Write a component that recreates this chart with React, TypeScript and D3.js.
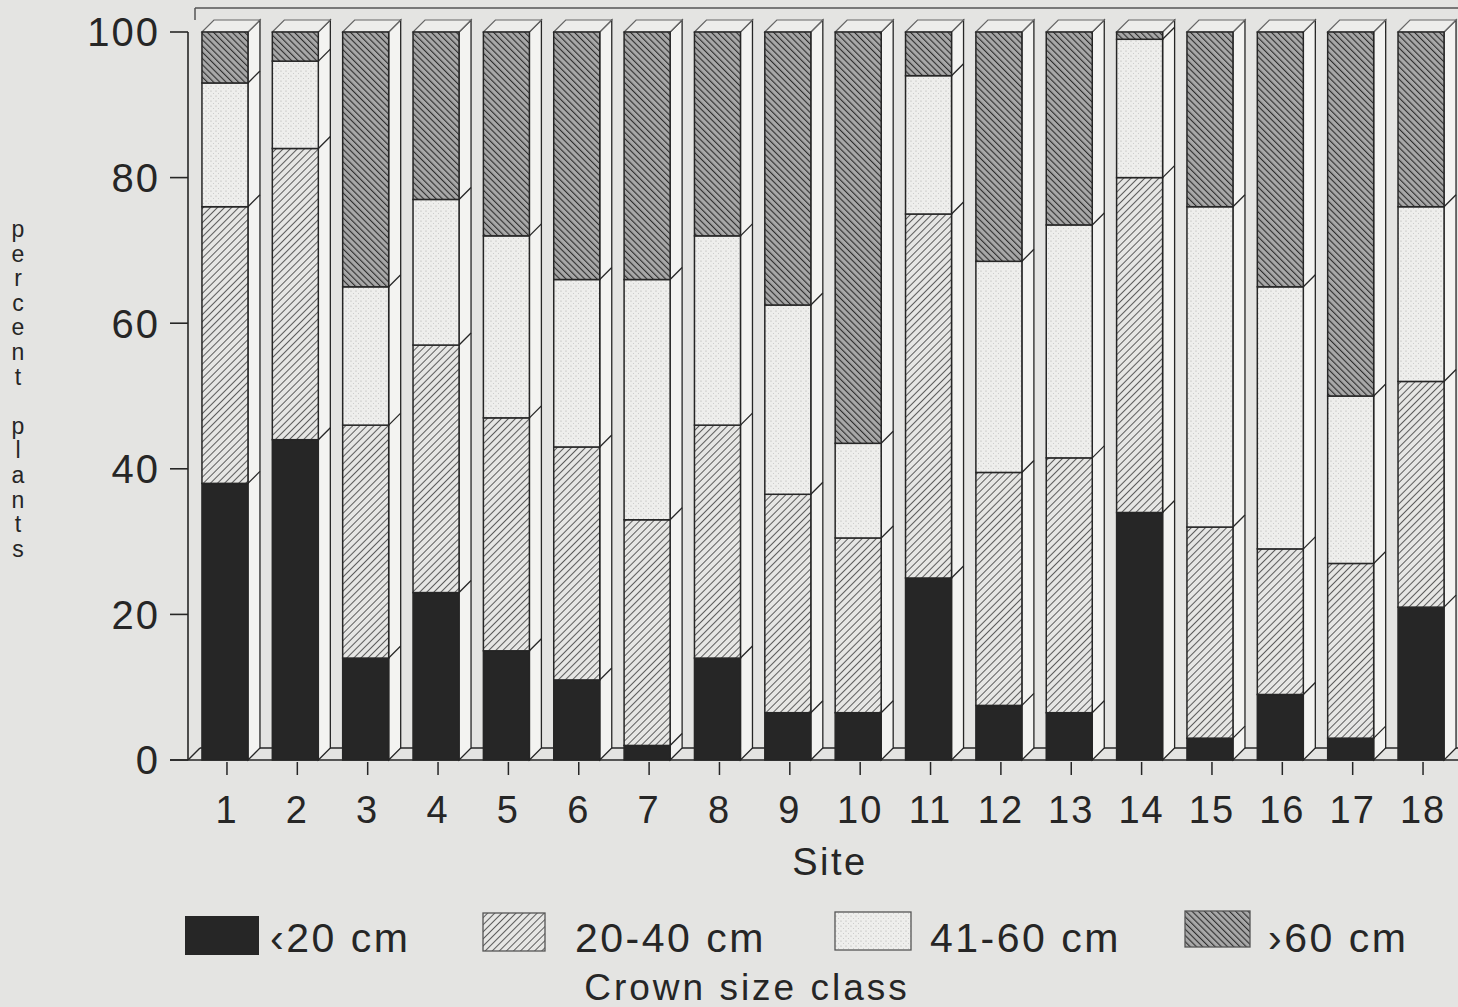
import React from "react";
import * as d3 from "d3";

const sites = ["1", "2", "3", "4", "5", "6", "7", "8", "9", "10", "11", "12", "13", "14", "15", "16", "17", "18"];
const lt20 = [38, 44, 14, 23, 15, 11, 2, 14, 6.5, 6.5, 25, 7.5, 6.5, 34, 3, 9, 3, 21];
const c20to40 = [38, 40, 32, 34, 32, 32, 31, 32, 30, 24, 50, 32, 35, 46, 29, 20, 24, 31];
const c41to60 = [17, 12, 19, 20, 25, 23, 33, 26, 26, 13, 19, 29, 32, 19, 44, 36, 23, 24];
const gt60 = [7, 4, 35, 23, 28, 34, 34, 28, 37.5, 56.5, 6, 31.5, 26.5, 1, 24, 35, 50, 24];
const classKeys = ["lt20", "c20to40", "c41to60", "gt60"];
const classLabels = ["\u203920 cm", "20-40 cm", "41-60 cm", "\u203a60 cm"];
const yTicks = [0, 20, 40, 60, 80, 100];

const W = 1458;
const H = 1007;
const FONT = "'Liberation Sans', Arial, Helvetica, sans-serif";
const INK = "#262626";
const DX = 12;
const DY = 12;

const fills: Record<string, string> = {
  lt20: "#262626",
  c20to40: "url(#p2040)",
  c41to60: "url(#p4160)",
  gt60: "url(#p60)",
};

export default function App() {
  const rows = sites.map((s, i) => ({
    site: s,
    lt20: lt20[i],
    c20to40: c20to40[i],
    c41to60: c41to60[i],
    gt60: gt60[i],
  }));
  const series = d3.stack<any>().keys(classKeys)(rows);

  const x = d3
    .scaleBand()
    .domain(sites)
    .range([190, 1456])
    .paddingInner(0.346)
    .paddingOuter(0.17);
  const y = d3.scaleLinear().domain([0, 100]).range([760, 32]);
  const bw = x.bandwidth();
  const y0 = y(0);
  const yTop = y(100);

  // legend layout
  const legendBoxes = [
    { x: 185, y: 916, w: 74, h: 39, tx: 270 },
    { x: 483, y: 913, w: 62, h: 38, tx: 575 },
    { x: 835, y: 912, w: 76, h: 38, tx: 930 },
    { x: 1185, y: 911, w: 65, h: 36, tx: 1268 },
  ];

  const yLabel = "percent plants".split("");

  return (
    <svg
      width={W}
      height={H}
      style={{ position: "absolute", left: 0, top: 0 }}
      fontFamily={FONT}
    >
      <defs>
        <pattern id="p2040" patternUnits="userSpaceOnUse" width="5" height="5" patternTransform="rotate(45)">
          <rect width="5" height="5" fill="#e6e6e4" />
          <line x1="0" y1="0" x2="0" y2="5" stroke="#3a3a3a" strokeWidth="1.6" />
        </pattern>
        <pattern id="p60" patternUnits="userSpaceOnUse" width="4.4" height="4.4" patternTransform="rotate(-45)">
          <rect width="4.4" height="4.4" fill="#a8a8a8" />
          <line x1="0" y1="0" x2="0" y2="4.4" stroke="#2e2e2e" strokeWidth="2.2" />
        </pattern>
        <pattern id="p4160" patternUnits="userSpaceOnUse" width="5" height="5">
          <rect width="5" height="5" fill="#eeeeec" />
          <circle cx="1" cy="1" r="0.6" fill="#ababab" />
          <circle cx="3.5" cy="3.6" r="0.5" fill="#c2c2c2" />
        </pattern>
      </defs>
      <rect width={W} height={H} fill="#e4e4e2" />

      {/* back frame */}
      <line x1={195} x2={W} y1={8} y2={8} stroke="#555" strokeWidth={1.5} />
      <line x1={195} x2={195} y1={8} y2={20} stroke="#555" strokeWidth={1.5} />

      {/* floor */}
      <line x1={188} y1={y0} x2={188 + DX} y2={y0 - DY} stroke={INK} strokeWidth={1.4} />
      <line x1={188 + DX} x2={W} y1={y0 - DY} y2={y0 - DY} stroke={INK} strokeWidth={1.4} />

      {/* bars */}
      {sites.map((s, i) => {
        const x0 = x(s)!;
        const x1 = x0 + bw;
        const segs = series.map((sr) => ({ key: sr.key, lo: sr[i][0], hi: sr[i][1] }));
        return (
          <g key={s}>
            {/* side face */}
            <path
              d={`M${x1},${y0}L${x1 + DX},${y0 - DY}L${x1 + DX},${yTop - DY}L${x1},${yTop}Z`}
              fill="#f3f3f1"
              stroke={INK}
              strokeWidth={1.3}
            />
            {/* top face */}
            <path
              d={`M${x0},${yTop}L${x0 + DX},${yTop - DY}L${x1 + DX},${yTop - DY}L${x1},${yTop}Z`}
              fill="#ededeb"
              stroke="#666"
              strokeWidth={1.2}
            />
            {segs.slice(0, -1).map((sg) => (
              <line
                key={"d" + sg.key}
                x1={x1}
                y1={y(sg.hi)}
                x2={x1 + DX}
                y2={y(sg.hi) - DY}
                stroke={INK}
                strokeWidth={1.3}
              />
            ))}
            {segs.map((sg) => (
              <rect
                key={sg.key}
                x={x0}
                y={y(sg.hi)}
                width={bw}
                height={y(sg.lo) - y(sg.hi)}
                fill={fills[sg.key]}
                stroke={INK}
                strokeWidth={1.5}
              />
            ))}
          </g>
        );
      })}

      {/* y axis */}
      <line x1={188} x2={188} y1={yTop} y2={y0} stroke={INK} strokeWidth={1.6} />
      {yTicks.map((t) => (
        <g key={t}>
          <line x1={170} x2={188} y1={y(t)} y2={y(t)} stroke={INK} strokeWidth={1.6} />
          <text
            x={160}
            y={y(t)}
            dy="0.36em"
            textAnchor="end"
            fontSize={40}
            letterSpacing={2}
            fill={INK}
          >
            {t}
          </text>
        </g>
      ))}

      {/* x axis */}
      <line x1={170} x2={W} y1={y0} y2={y0} stroke={INK} strokeWidth={1.6} />
      {sites.map((s) => {
        const cx = x(s)! + bw / 2 + 2;
        return (
          <g key={"t" + s}>
            <line x1={cx} x2={cx} y1={y0 + 2} y2={y0 + 15} stroke={INK} strokeWidth={1.5} />
            <text x={cx} y={823} textAnchor="middle" fontSize={38} letterSpacing={2} fill={INK}>
              {s}
            </text>
          </g>
        );
      })}
      <text x={830} y={875} textAnchor="middle" fontSize={38} letterSpacing={2.5} fill={INK}>
        Site
      </text>

      {/* y label, stacked letters */}
      {yLabel.map((ch, i) => (
        <text
          key={i}
          x={18}
          y={237 + i * 24.6}
          textAnchor="middle"
          fontSize={23}
          fill={INK}
        >
          {ch}
        </text>
      ))}

      {/* legend */}
      {classKeys.map((k, i) => {
        const b = legendBoxes[i];
        return (
          <g key={"lg" + k}>
            <rect
              x={b.x}
              y={b.y}
              width={b.w}
              height={b.h}
              fill={fills[k]}
              stroke={i === 0 ? "none" : "#555"}
              strokeWidth={1.3}
            />
            <text x={b.tx} y={952} fontSize={41} letterSpacing={2.5} fill={INK}>
              {classLabels[i]}
            </text>
          </g>
        );
      })}
      <text x={747} y={1000} textAnchor="middle" fontSize={37} letterSpacing={3} fill={INK}>
        Crown size class
      </text>
    </svg>
  );
}
